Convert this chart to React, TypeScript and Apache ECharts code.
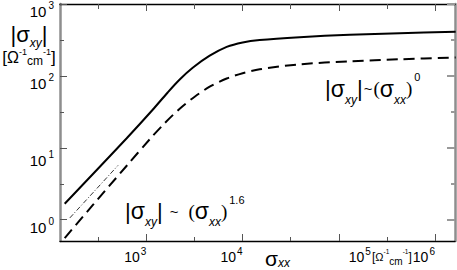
import React, { useEffect, useRef } from 'react';
import * as echarts from 'echarts';

// |sigma_xy| curves (sigma_xx in Ohm^-1 cm^-1)
const solidX = [141.5, 276.6, 624.2, 1163, 1665, 2220, 3029, 4550, 6834, 10023, 15060, 39230, 129800, 429700, 1641000];
const solidY = [1.669, 4.294, 13.6, 33.88, 58.86, 89.1, 129.7, 190.9, 253.2, 292.4, 315.7, 345.3, 374.1, 392.6, 410.6];
const dashedX = [141.5, 276.6, 624.2, 1082, 1550, 2220, 3178, 4550, 6834, 10023, 15060, 39230, 129800, 429700, 1641000];
const dashedY = [0.5564, 1.591, 5.636, 13.13, 22.06, 34.98, 51.36, 70.76, 92.0, 109.0, 123.5, 145.0, 159.6, 170.2, 180.3];
const guideX = [160, 507];
const guideY = [1.06, 5.69];

const xMajorTicks = [1e3, 1e4, 1e5, 1e6];
const xMinorTicks = [316.2, 3162, 31623, 316228];
const xLabelsA = [1e3, 1e4, 1e6];
const xLabelsB = [1e5];
const yMajorTicks = [1, 10, 100, 1000];
const yMinorTicks = [3.162, 31.62, 316.2];
const yLabelsA = [1, 100, 1000];
const yLabelsB = [10];

const X_MIN = 126.4, X_MAX = 1.616e6, Y_MIN = 0.506, Y_MAX = 1000;

const SANS = 'Liberation Sans';
const SERIF = 'Liberation Serif';
const T = (fs: number, lh: number, va: string, extra: any = {}) => ({
  fontSize: fs, lineHeight: lh, verticalAlign: va, fontFamily: SANS, color: '#000', ...extra,
});

const labelRich = {
  b: T(15, 22, 'middle'),
  s: T(10, 8, 'top', { padding: [0, 0, 0, 2] }),
};
const xLabelRich = {
  b: T(14, 22, 'middle'),
  s: T(10, 8, 'top', { padding: [0, 0, 0, 1] }),
};
const powFmt = (v: number) => `{b|10}{s|${Math.round(Math.log10(v))}}`;

const pair = (xs: number[], ys: number[]) => xs.map((x, i) => [x, ys[i]]);

const annRich = {
  bar: T(22, 34, 'middle'),
  sig: T(23, 34, 'middle'),
  sub: T(12, 26, 'bottom', { fontStyle: 'italic' }),
  t: T(15, 34, 'middle', { padding: [0, 1, 0, 1] }),
  t2: T(15, 34, 'middle', { padding: [0, 10, 0, 7] }),
  par: T(19, 34, 'middle', { fontFamily: SERIF }),
  sup: T(11, 8, 'top', { padding: [0, 0, 0, 2] }),
};

export default function App() {
  const ref = useRef<HTMLDivElement>(null);
  useEffect(() => {
    const chart = echarts.init(ref.current!, undefined, { renderer: 'svg' });
    const none = {
      axisLine: { show: false, onZero: false },
      axisTick: { show: false },
      axisLabel: { show: false },
      splitLine: { show: false },
      minorTick: { show: false },
      minorSplitLine: { show: false },
    };
    const xBase = (extra: any) => ({ type: 'log', logBase: 10, min: X_MIN, max: X_MAX, gridIndex: 0, ...none, ...extra });
    const yBase = (extra: any) => ({ type: 'log', logBase: 10, min: Y_MIN, max: Y_MAX, gridIndex: 0, ...none, ...extra });
    const tick = (vals: number[], len: number, color: string, width = 1) => ({
      show: true, inside: true, length: len, customValues: vals, lineStyle: { color, width },
    });

    chart.setOption({
      animation: false,
      grid: { left: 60, right: 2, top: 4, bottom: 29, containLabel: false, outerBoundsMode: 'none' },
      xAxis: [
        xBase({
          position: 'bottom',
          axisLine: { show: true, onZero: false, lineStyle: { color: '#000', width: 1.3 } },
          axisTick: tick(xMajorTicks, 7, '#555'),
          axisLabel: { show: true, customValues: xLabelsA, formatter: powFmt, align: 'right', margin: 5, rich: xLabelRich },
        }),
        xBase({ position: 'bottom', axisTick: tick(xMinorTicks, 4, '#555') }),
        xBase({
          position: 'bottom',
          axisLabel: { show: true, customValues: xLabelsB, formatter: powFmt, align: 'left', margin: 5, padding: [0, 0, 0, 10], rich: xLabelRich },
        }),
        xBase({
          position: 'top',
          axisLine: { show: true, onZero: false, lineStyle: { color: '#000', width: 1.3 } },
          axisTick: tick(xMajorTicks, 7, '#555'),
        }),
        xBase({ position: 'top', axisTick: tick(xMinorTicks, 5, '#555') }),
      ],
      yAxis: [
        yBase({
          position: 'left',
          axisLine: { show: true, onZero: false, lineStyle: { color: '#8e8e8e', width: 2.5 } },
          axisTick: tick(yMajorTicks, 7, '#555'),
          axisLabel: { show: true, customValues: yLabelsA, formatter: powFmt, margin: 6, padding: [15, 0, 0, 0], rich: labelRich },
        }),
        yBase({ position: 'left', axisTick: tick(yMinorTicks, 4, '#555') }),
        yBase({
          position: 'left',
          axisLabel: { show: true, customValues: yLabelsB, formatter: powFmt, margin: 6, padding: [25, 0, 0, 0], rich: labelRich },
        }),
        yBase({
          position: 'right',
          axisLine: { show: true, onZero: false, lineStyle: { color: '#8e8e8e', width: 2.5 } },
          axisTick: tick(yMajorTicks, 8, '#999', 2),
        }),
        yBase({ position: 'right', axisTick: tick(yMinorTicks, 4, '#999', 2) }),
      ],
      series: [
        {
          type: 'line', data: pair(solidX, solidY), showSymbol: false, smooth: 0.3,
          lineStyle: { color: '#000', width: 2 }, xAxisIndex: 0, yAxisIndex: 0,
        },
        {
          type: 'line', data: pair(dashedX, dashedY), showSymbol: false, smooth: 0.3,
          lineStyle: { color: '#000', width: 2, type: [11, 6] }, xAxisIndex: 0, yAxisIndex: 0,
        },
        {
          type: 'line', data: pair(guideX, guideY), showSymbol: false,
          lineStyle: { color: '#000', width: 0.8, type: [5, 2, 1, 2] }, xAxisIndex: 0, yAxisIndex: 0,
        },
      ],
      graphic: [
        {
          type: 'text', x: 29, y: 34,
          style: {
            text: '{bar||}{sig|σ}{sub|xy}{bar||}', align: 'center', verticalAlign: 'middle',
            rich: { bar: T(22, 30, 'middle'), sig: T(22, 30, 'middle'), sub: T(12, 21, 'bottom', { fontStyle: 'italic' }) },
          },
        },
        {
          type: 'text', x: 29, y: 57,
          style: {
            text: '{br|[}{om|Ω}{sp|-1}{cm|cm}{sp|-1}{br|]}', align: 'center', verticalAlign: 'middle',
            rich: { br: T(17, 20, 'middle'), om: T(16, 20, 'middle'), cm: T(12, 14, 'bottom'), sp: T(9, 8, 'top') },
          },
        },
        {
          type: 'text', x: 265, y: 258,
          style: {
            text: '{sig|σ}{sub|xx}', align: 'left', verticalAlign: 'middle',
            rich: { sig: T(21, 22, 'middle'), sub: T(12, 14, 'bottom', { fontStyle: 'italic' }) },
          },
        },
        {
          type: 'text', x: 372, y: 257,
          style: {
            text: '{br|[}{om|Ω}{sp|-1}{cm|cm}{sp|-1}{br|]}', align: 'left', verticalAlign: 'middle',
            rich: { br: T(12, 18, 'middle'), om: T(11, 18, 'middle'), cm: T(10, 12, 'bottom'), sp: T(6.5, 7, 'top') },
          },
        },
        {
          type: 'text', x: 325, y: 88.5,
          style: {
            text: '{bar||}{sig|σ}{sub|xy}{bar||}{t|~}{par|(}{sig|σ}{sub|xx}{par|)}{sup|0}', align: 'left', verticalAlign: 'middle',
            rich: annRich,
          },
        },
        {
          type: 'text', x: 125, y: 211,
          style: {
            text: '{bar||}{sig|σ}{sub|xy}{bar||}{t2|~}{par|(}{sig|σ}{sub|xx}{par|)}{sup|1.6}', align: 'left', verticalAlign: 'middle',
            rich: annRich,
          },
        },
      ],
    });
    return () => chart.dispose();
  }, []);
  return <div ref={ref} style={{ position: 'absolute', left: 0, top: 0, width: 457, height: 270 }} />;
}
